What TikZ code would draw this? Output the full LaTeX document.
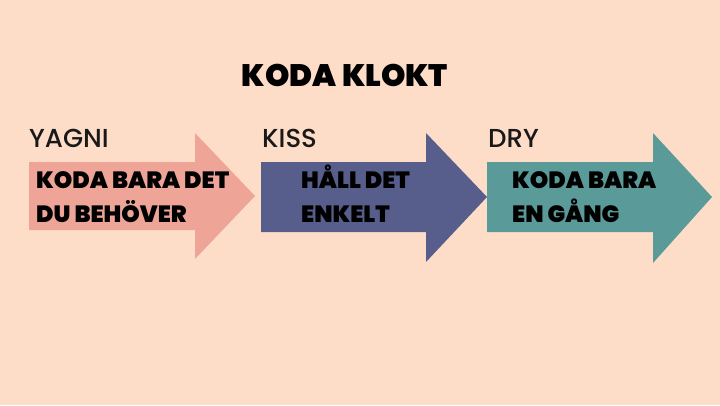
\documentclass[tikz,border=0pt]{standalone}
\usepackage{fontspec}
\setmainfont{Poppins}[BoldFont={* Black}]
\newfontfamily\tagfont{Poppins Medium}
\definecolor{bg}{RGB}{253,221,200}
\definecolor{salmon}{RGB}{238,164,150}
\definecolor{slate}{RGB}{88,94,140}
\definecolor{teal}{RGB}{90,154,152}
\tikzset{
  tag/.style={anchor=base west, inner sep=0pt, font=\tagfont\fontsize{26}{26}\selectfont, text=black!90},
  body/.style={anchor=base west, inner sep=0pt, font=\fontsize{23.5}{33}\selectfont\bfseries, align=left, text=black},
}
\begin{document}
\begin{tikzpicture}[x=1pt,y=-1pt]
\fill[bg] (0,0) rectangle (720,405);
\useasboundingbox (0,0) rectangle (720,405);
\node[inner sep=0pt, anchor=base, font=\fontsize{31}{31}\selectfont\bfseries] (title) at (345,86) {KODA KLOKT};
% arrows
\fill[salmon] (29,162) -- (195,162) -- (195,133) -- (255,196) -- (195,259) -- (195,230) -- (29,230) -- cycle;
\fill[slate] (261,162) -- (426,162) -- (426,133) -- (487,197) -- (426,262) -- (426,232) -- (261,232) -- cycle;
\fill[teal] (487,162) -- (653,162) -- (653,133) -- (712,197) -- (653,263) -- (653,232) -- (487,232) -- cycle;
\node[tag] (t1) at (29,147) {YAGNI};
\node[tag] (t2) at (262,147) {KISS};
\node[tag] (t3) at (488,147) {DRY};
\node[body] (b1) at (36,188) {KODA BARA DET};
\node[body] (b1b) at (36,222) {DU BEHÖVER};
\node[body] (b2) at (301,188) {HÅLL DET};
\node[body] (b2b) at (301,222) {ENKELT};
\node[body] (b3) at (512,188) {KODA BARA};
\node[body] (b3b) at (512,222) {EN GÅNG};
\end{tikzpicture}
\end{document}
